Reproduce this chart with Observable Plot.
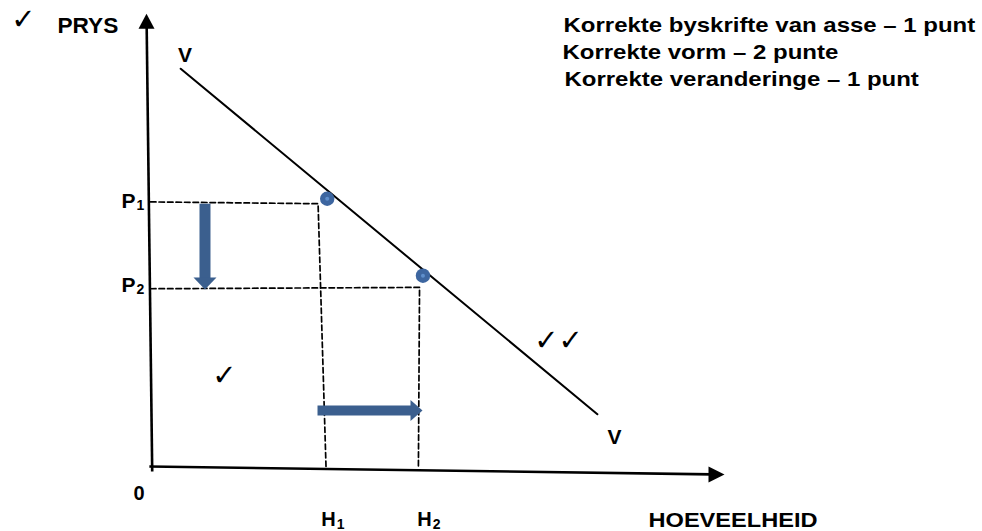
<!DOCTYPE html>
<html><head><meta charset="utf-8">
<script src="https://cdn.jsdelivr.net/npm/d3@7"></script>
<script src="https://cdn.jsdelivr.net/npm/@observablehq/plot@0.6"></script>
<style>html,body{margin:0;padding:0;background:#fff;} svg{display:block}</style>
</head><body>
<script>
// ---------- data (quantity / price units) ----------
const demandCurve = [{q: 0.53, p: 8.84}, {q: 7.84, p: 1.16}];
const equilibria = [{q: 3.10, p: 5.95}, {q: 4.78, p: 4.24}];
const guide1 = [{q: 0, p: 5.88}, {q: 2.94, p: 5.84}, {q: 3.08, p: -0.04}];
const guide2 = [{q: 0, p: 3.95}, {q: 4.72, p: 3.98}, {q: 4.70, p: -0.04}];
const yAxisLine = [{x1: 0.03, y1: -0.11, x2: -0.07, y2: 10.06}];
const xAxisLine = [{x1: -0.02, y1: 0, x2: 10.07, y2: -0.178}];
const priceArrow = [{x1: 0.956, y1: 5.84, x2: 0.956, y2: 3.933}];
const quantityArrow = [{x1: 2.93, y1: 1.244, x2: 4.772, y2: 1.244}];

const priceLabels = [{t: "P", s: "1", x: -0.509, y: 5.90}, {t: "P", s: "2", x: -0.509, y: 4.033}];
const quantityLabels = [{t: "H", s: "1", x: 2.994, y: -1.189}, {t: "H", s: "2", x: 4.679, y: -1.189}];
const curveLabels = [{t: "V", x: 0.605, y: 9.144}, {t: "V", x: 8.14, y: 0.656}];
const originLabel = [{t: "0", x: -0.202, y: -0.607}];
const yTitle = [{t: "PRYS", x: -1.632, y: 9.787}];
const xTitle = [{t: "HOEVEELHEID", x: 8.737, y: -1.193}];
const rubric = [
  {t: "Korrekte byskrifte van asse \u2013 1 punt", x: 7.246, y: 9.793},
  {t: "Korrekte vorm \u2013 2 punte", x: 7.228, y: 9.193},
  {t: "Korrekte veranderinge \u2013 1 punt", x: 7.263, y: 8.593}
];
const ticks = [
  {t: "\u2713", x: -2.228, y: 9.933},
  {t: "\u2713\u2713", x: 7.158, y: 2.80},
  {t: "\u2713", x: 1.298, y: 2.022}
];

// ---------- helpers ----------
const head = (ux, uy, len, wid) => ({
  draw(ctx) {
    const px = -uy, py = ux;
    ctx.moveTo(0, 0);
    ctx.lineTo(-ux * len + px * wid / 2, -uy * len + py * wid / 2);
    ctx.lineTo(-ux * len - px * wid / 2, -uy * len - py * wid / 2);
    ctx.closePath();
  }
});
const FONT = "Liberation Sans, Arial, Helvetica, sans-serif";
const CHECKFONT = "DejaVu Sans, sans-serif";
const BLUE = "#3b5f8e";
const DOT = "#3d66a0";

const txt = (data, o = {}) => Plot.text(data, {
  x: "x", y: "y", text: "t", fill: "black", fontFamily: FONT, fontWeight: "bold",
  lineAnchor: "middle", ...o
});

const plot = Plot.plot({
  width: 982, height: 531,
  marginLeft: 150, marginRight: 262, marginTop: 16, marginBottom: 65,
  x: {domain: [0, 10], axis: null},
  y: {domain: [0, 10], axis: null},
  style: {background: "white", overflow: "visible", fontFamily: FONT},
  marks: [
    // dashed guides
    Plot.line(guide1, {x: "q", y: "p", stroke: "black", strokeWidth: 1.7, strokeDasharray: "5.5,3"}),
    Plot.line(guide2, {x: "q", y: "p", stroke: "black", strokeWidth: 1.7, strokeDasharray: "5.5,3"}),
    // axes
    Plot.arrow(yAxisLine, {x1: "x1", y1: "y1", x2: "x2", y2: "y2", headLength: 0, insetEnd: 12,
      stroke: "black", strokeWidth: 2.6, strokeLinecap: "butt", strokeLinejoin: "miter"}),
    Plot.dot(yAxisLine, {x: "x2", y: "y2", symbol: head(0, -1, 15, 16), fill: "black", stroke: "none"}),
    Plot.arrow(xAxisLine, {x1: "x1", y1: "y1", x2: "x2", y2: "y2", headLength: 0, insetEnd: 13,
      stroke: "black", strokeWidth: 2.6, strokeLinecap: "butt", strokeLinejoin: "miter"}),
    Plot.dot(xAxisLine, {x: "x2", y: "y2", symbol: head(1, 0, 16, 16), fill: "black", stroke: "none"}),
    // demand curve
    Plot.line(demandCurve, {x: "q", y: "p", stroke: "black", strokeWidth: 2}),
    // change arrows
    Plot.arrow(priceArrow, {x1: "x1", y1: "y1", x2: "x2", y2: "y2", headLength: 0, insetEnd: 10,
      stroke: BLUE, strokeWidth: 11, strokeLinecap: "butt", strokeLinejoin: "miter"}),
    Plot.dot(priceArrow, {x: "x2", y: "y2", symbol: head(0, 1, 12, 23), fill: BLUE, stroke: "none"}),
    Plot.arrow(quantityArrow, {x1: "x1", y1: "y1", x2: "x2", y2: "y2", headLength: 0, insetEnd: 10,
      stroke: BLUE, strokeWidth: 10, strokeLinecap: "butt", strokeLinejoin: "miter"}),
    Plot.dot(quantityArrow, {x: "x2", y: "y2", symbol: head(1, 0, 12, 21), fill: BLUE, stroke: "none"}),
    // equilibrium points
    Plot.dot(equilibria, {x: "q", y: "p", r: 7.2, fill: DOT, stroke: "none"}),
    Plot.dot(equilibria, {x: "q", y: "p", r: 2, fill: "#5f8fcc", stroke: "none"}),
    // labels
    txt(priceLabels, {fontSize: 21, textAnchor: "start"}),
    txt(priceLabels, {text: "s", fontSize: 14, textAnchor: "start", dx: 15, dy: 5}),
    txt(quantityLabels, {fontSize: 20, textAnchor: "start"}),
    txt(quantityLabels, {text: "s", fontSize: 14, textAnchor: "start", dx: 15.5, dy: 5}),
    txt(curveLabels, {fontSize: 21, textAnchor: "middle"}),
    txt(originLabel, {fontSize: 20, textAnchor: "middle"}),
    txt(yTitle, {fontSize: 22, textAnchor: "start"}),
    txt(xTitle, {fontSize: 20, textAnchor: "start"}),
    txt(rubric, {fontSize: 20.5, textAnchor: "start"}),
    txt(ticks, {fontSize: 29, textAnchor: "middle", fontFamily: CHECKFONT, fontWeight: "bold"})
  ]
});

// horizontal stretch of some labels, as in the (widened) reference picture
const svg = d3.select(plot);
function stretch(filterFn, s) {
  svg.selectAll("text").filter(filterFn).each(function () {
    const tr = this.getAttribute("transform");
    if (tr && tr.includes("translate")) this.setAttribute("transform", tr + ` scale(${s},1)`);
    else this.style.letterSpacing = ((s - 1) * 10).toFixed(1) + "px";
  });
}
stretch(function () { return this.textContent.startsWith("Korrekte"); }, 1.17);
stretch(function () { return this.textContent === "HOEVEELHEID"; }, 1.18);
stretch(function () { return this.textContent === "PRYS"; }, 1.03);
document.body.appendChild(plot);
</script>
</body></html>
